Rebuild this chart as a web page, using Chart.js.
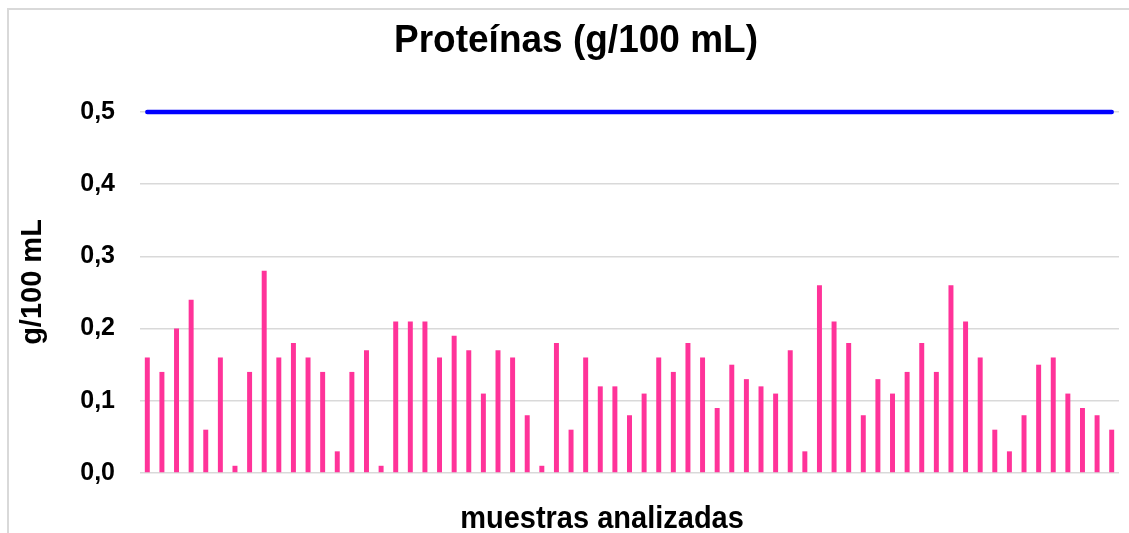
<!DOCTYPE html>
<html lang="es">
  <head>
    <meta charset="UTF-8" />
    <title>Proteínas (g/100 mL)</title>
    <script src="https://cdn.jsdelivr.net/npm/chart.js"></script>
    <style>
      body { margin: 0; overflow: hidden; background: #fff; }
      #frame {
        position: absolute; left: 7px; top: 8px;
        width: 1200px; height: 600px;
        border: 2px solid #d9d9d9;
      }
      #chart { position: absolute; left: 0; top: 0; }
    </style>
  </head>
  <body>
    <div id="frame"></div>
    <canvas id="chart" width="1129" height="533"></canvas>

    <script>
      // muestras 1..67
      var samples = [];
      for (var i = 1; i <= 67; i++) samples.push(String(i));

      // proteínas medidas (g/100 mL)
      var proteins = [
        0.16, 0.14, 0.20, 0.24, 0.06, 0.16, 0.01, 0.14, 0.28, 0.16,
        0.18, 0.16, 0.14, 0.03, 0.14, 0.17, 0.01, 0.21, 0.21, 0.21,
        0.16, 0.19, 0.17, 0.11, 0.17, 0.16, 0.08, 0.01, 0.18, 0.06,
        0.16, 0.12, 0.12, 0.08, 0.11, 0.16, 0.14, 0.18, 0.16, 0.09,
        0.15, 0.13, 0.12, 0.11, 0.17, 0.03, 0.26, 0.21, 0.18, 0.08,
        0.13, 0.11, 0.14, 0.18, 0.14, 0.26, 0.21, 0.16, 0.06, 0.03,
        0.08, 0.15, 0.16, 0.11, 0.09, 0.08, 0.06
      ];

      // valor de referencia (línea azul)
      var limit = 0.5;
      var limitLine = samples.map(function () { return limit; });

      var yTicks = [0, 0.1, 0.2, 0.3, 0.4, 0.5];

      var font = "'Liberation Sans', Arial, sans-serif";

      // títulos dibujados a mano para colocarlos como en el original
      var titlesPlugin = {
        id: "titles",
        afterDraw: function (chart) {
          var c = chart.ctx;
          var area = chart.chartArea;
          c.save();
          c.fillStyle = "#000";
          c.textAlign = "center";
          c.textBaseline = "alphabetic";

          c.save();
          c.font = "bold 37px " + font;
          c.translate(576, 52);
          c.scale(1, 1.05);
          c.fillText("Proteínas (g/100 mL)", 0, 0);
          c.restore();

          c.save();
          c.font = "bold 29px " + font;
          c.translate(602, area.bottom + 55);
          c.scale(1, 1.1);
          c.fillText("muestras analizadas", 0, 0);
          c.restore();

          c.save();
          c.font = "bold 29px " + font;
          c.translate(41, 282);
          c.rotate(-Math.PI / 2);
          c.fillText("g/100 mL", 0, 0);
          c.restore();

          c.restore();
        },
      };

      var ctx = document.getElementById("chart").getContext("2d");
      new Chart(ctx, {
        type: "bar",
        data: {
          labels: samples,
          datasets: [
            {
              type: "line",
              data: limitLine,
              borderColor: "#0000ff",
              borderWidth: 4.5,
              borderCapStyle: "round",
              pointRadius: 0,
              clip: false,
              order: 0,
            },
            {
              data: proteins,
              backgroundColor: "#ff3399",
              categoryPercentage: 1,
              barPercentage: 0.34,
              order: 1,
            },
          ],
        },
        options: {
          responsive: false,
          animation: false,
          layout: { padding: { left: 8, right: 10, top: 112, bottom: 0 } },
          plugins: {
            legend: { display: false },
            tooltip: { enabled: false },
          },
          scales: {
            x: {
              ticks: { display: false },
              grid: { display: false },
              border: { display: false },
              afterFit: function (scale) { scale.height = 60; },
            },
            y: {
              min: 0,
              max: 0.5,
              afterBuildTicks: function (scale) {
                scale.ticks = yTicks.map(function (v) { return { value: v }; });
              },
              ticks: {
                color: "#000",
                padding: 25,
                font: { family: font, size: 25, weight: "bold" },
                callback: function (v) { return v.toFixed(1).replace(".", ","); },
              },
              grid: { color: "#d9d9d9", lineWidth: 1.5, drawTicks: false },
              border: { display: false },
              afterFit: function (scale) { scale.width = 132; },
            },
          },
        },
        plugins: [titlesPlugin],
      });
    </script>
  </body>
</html>
